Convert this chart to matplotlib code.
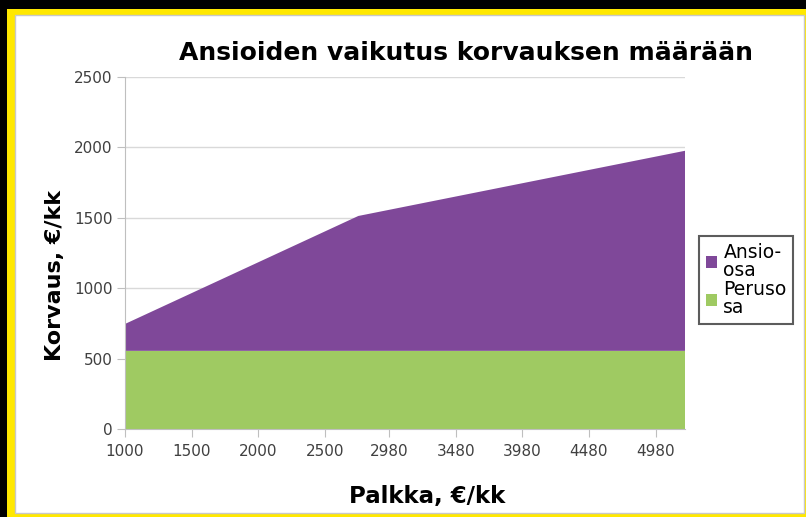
import matplotlib.pyplot as plt
from matplotlib.patches import Rectangle, Patch

# Data (salary, €/kk)
palkka = [1000, 2750, 5200]
perusosa = [555, 555, 555]
ansio_yla = [746, 1513, 1976]  # total height (perusosa + ansio-osa)
ansio_osa = [t - p for t, p in zip(ansio_yla, perusosa)]

tick_vals = [1000, 1500, 2000, 2500, 2980, 3480, 3980, 4480, 4980]
tick_labels = [str(v) for v in tick_vals]

purple = '#7f4899'
green = '#9fca62'

fig = plt.figure(figsize=(8.06, 5.17), dpi=100)
fig.patch.set_facecolor('black')

# Yellow frame and white panel
fig.patches.append(Rectangle((7 / 806, 0), 1, 1 - 9 / 517, transform=fig.transFigure,
                             facecolor='#ffe800', edgecolor='none', zorder=-10))
fig.patches.append(Rectangle((15 / 806, 4 / 517), 789 / 806, 1 - 19 / 517,
                             transform=fig.transFigure, facecolor='white',
                             edgecolor='#c8c8c8', linewidth=1, zorder=-9))

ax = fig.add_axes([125 / 806, 1 - 429 / 517, 560 / 806, 352 / 517])
ax.set_zorder(1)
ax.set_facecolor('white')

ax.stackplot(palkka, perusosa, ansio_osa, colors=[green, purple],
             linewidth=0, zorder=2)

ax.set_xlim(1000, 5200)
ax.set_ylim(0, 2500)
ax.set_yticks(range(0, 2501, 500))
ax.set_xticks(tick_vals)
ax.set_xticklabels(tick_labels)
ax.yaxis.grid(True, color='#d9d9d9', linewidth=1)
ax.set_axisbelow(True)

for s in ['top', 'right']:
    ax.spines[s].set_visible(False)
for s in ['left', 'bottom']:
    ax.spines[s].set_color('#bfbfbf')
ax.tick_params(axis='both', colors='#bfbfbf', labelcolor='#404040',
               labelsize=11, length=6, direction='out')
ax.tick_params(axis='y', pad=3)
ax.tick_params(axis='x', pad=5)

# Title and axis labels
fig.text(466 / 806, 1 - 53 / 517, 'Ansioiden vaikutus korvauksen määrään',
         fontsize=18, fontweight='bold', ha='center', va='center')
ax.set_ylabel('Korvaus, €/kk', fontsize=16, fontweight='bold')
ax.yaxis.set_label_coords(-0.108, 0.435)
ax.set_xlabel('Palkka, €/kk', fontsize=16.5, fontweight='bold')
ax.xaxis.set_label_coords(0.539, -0.16)

handles = [Patch(facecolor=purple, label='Ansio-\nosa'),
           Patch(facecolor=green, label='Peruso\nsa')]
leg = ax.legend(handles=handles, loc='center left', bbox_to_anchor=(1.025, 0.423),
                fontsize=13.5, frameon=True, fancybox=False, handlelength=0.6,
                handleheight=0.6, handletextpad=0.35, borderpad=0.35,
                labelspacing=0.0, borderaxespad=0)
for t in leg.get_texts():
    t.set_linespacing(0.95)
leg.get_frame().set_edgecolor('#333333')
leg.get_frame().set_linewidth(1.5)

fig.savefig('out.png', dpi=100, facecolor=fig.get_facecolor())
